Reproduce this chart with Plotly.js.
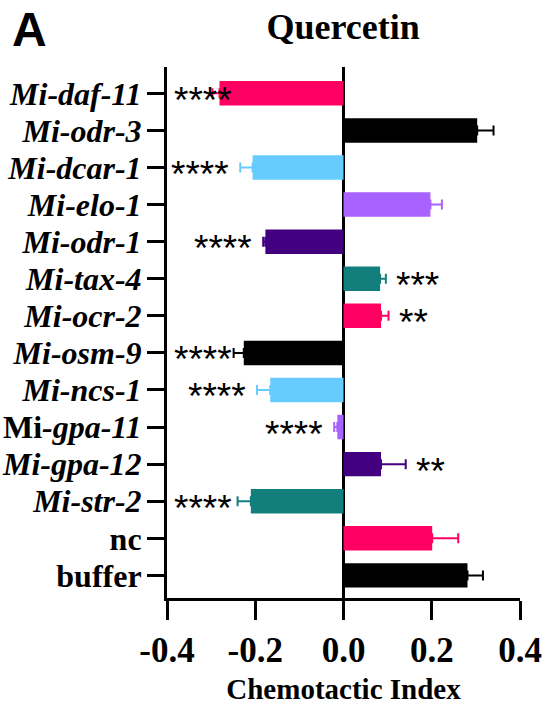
<!DOCTYPE html>
<html>
<head>
<meta charset="utf-8">
<script src="https://cdn.plot.ly/plotly-3.0.1.min.js"></script>
<style>html,body{margin:0;padding:0;background:#fff;}#chart{width:550px;height:709px;}</style>
</head>
<body>
<div id="chart"></div>
<script>
// ---- data (top to bottom) ----
var categories = ['Mi-daf-11','Mi-odr-3','Mi-dcar-1','Mi-elo-1','Mi-odr-1','Mi-tax-4','Mi-ocr-2',
                  'Mi-osm-9','Mi-ncs-1','Mi-gpa-11','Mi-gpa-12','Mi-str-2','nc','buffer'];
var tickLabels = ['<i>Mi-daf-11</i>','<i>Mi-odr-3</i>','<i>Mi-dcar-1</i>','<i>Mi-elo-1</i>','<i>Mi-odr-1</i>',
                  '<i>Mi-tax-4</i>','<i>Mi-ocr-2</i>','<i>Mi-osm-9</i>','<i>Mi-ncs-1</i>','Mi<i>-gpa-11</i>',
                  '<i>Mi-gpa-12</i>','<i>Mi-str-2</i>','nc','buffer'];
var values = [-0.281, 0.303, -0.206, 0.197, -0.177, 0.083, 0.085,
              -0.226, -0.166, -0.014, 0.085, -0.210, 0.201, 0.281];
var errors = [0.016, 0.037, 0.028, 0.026, 0.005, 0.013, 0.017,
              0.023, 0.030, 0.007, 0.056, 0.030, 0.059, 0.035];
var stars = ['****','','****','','****','***','**','****','****','****','**','****','',''];
var colors = ['#FF0062','#000000','#66CCFF','#A862FF','#420080','#127F7C','#FF0062',
              '#000000','#66CCFF','#A862FF','#420080','#127F7C','#FF0062','#000000'];

var X_MIN = -0.4, X_MAX = 0.4;
var PLOT_L = 166.7, PLOT_R = 30, W = 550;
var pxPerUnit = (W - PLOT_L - PLOT_R) / (X_MAX - X_MIN);

var traces = [];
var annotations = [];
for (var i = 0; i < categories.length; i++) {
  var v = values[i], e = errors[i];
  traces.push({
    type: 'bar', orientation: 'h',
    x: [v], y: [categories[i]], width: 0.66,
    marker: {color: colors[i], line: {width: 0}},
    error_x: {type: 'data', symmetric: false,
              array: [v > 0 ? e : 0], arrayminus: [v < 0 ? e : 0],
              color: colors[i], thickness: 2, width: 5},
    hoverinfo: 'skip', showlegend: false
  });
  if (stars[i]) {
    var ann = {
      xref: 'x', yref: 'y', y: categories[i], yanchor: 'middle', yshift: -7,
      text: stars[i], showarrow: false,
      font: {family: 'Liberation Sans', size: 37, color: '#000'}
    };
    if (v > 0) {
      ann.x = v + e; ann.xanchor = 'left'; ann.xshift = 8;
    } else {
      var leftPx = (v - e - X_MIN) * pxPerUnit - 9 - stars[i].length * 14.5;
      if (leftPx < 6) { ann.x = X_MIN; ann.xanchor = 'left'; ann.xshift = 5; }
      else { ann.x = v - e; ann.xanchor = 'right'; ann.xshift = -9; }
    }
    annotations.push(ann);
  }
}
annotations.push({
  xref: 'paper', yref: 'paper', x: -0.39, y: 1.0715, xanchor: 'center', yanchor: 'middle',
  text: 'A', showarrow: false,
  font: {family: 'Liberation Sans', size: 48, color: '#000', weight: 'bold'}
});

var layout = {
  width: 550, height: 709,
  margin: {l: PLOT_L, r: PLOT_R, t: 67, b: 110.7},
  paper_bgcolor: '#fff', plot_bgcolor: '#fff',
  barmode: 'overlay',
  title: {text: 'Quercetin', xref: 'container', x: 0.624, xanchor: 'center',
          yref: 'container', y: 0.963, yanchor: 'middle',
          font: {family: 'Liberation Serif', size: 36, color: '#000', weight: 'bold'}},
  xaxis: {
    range: [X_MIN, X_MAX], tickvals: [-0.4, -0.2, 0, 0.2, 0.4], ticktext: ['-0.4','-0.2','0.0','0.2','0.4'],
    showgrid: false, zeroline: true, zerolinecolor: '#000', zerolinewidth: 3,
    showline: true, linecolor: '#000', linewidth: 3,
    ticks: 'outside', ticklen: 19, tickwidth: 3, tickcolor: '#000',
    tickfont: {family: 'Liberation Serif', size: 35, color: '#000', weight: 'bold'},
    title: {text: 'Chemotactic Index', standoff: 10,
            font: {family: 'Liberation Serif', size: 29, color: '#000', weight: 'bold'}}
  },
  yaxis: {
    type: 'category', categoryorder: 'array', categoryarray: categories,
    range: [13.61, -0.71],
    tickvals: categories, ticktext: tickLabels,
    showgrid: false, zeroline: false,
    showline: true, linecolor: '#000', linewidth: 3,
    ticks: 'outside', ticklen: 17, tickwidth: 3, tickcolor: '#000',
    ticklabelstandoff: -1,
    tickfont: {family: 'Liberation Serif', size: 32, color: '#000', weight: 'bold'}
  },
  annotations: annotations
};

Plotly.newPlot('chart', traces, layout, {displayModeBar: false, staticPlot: true});
</script>
</body>
</html>
